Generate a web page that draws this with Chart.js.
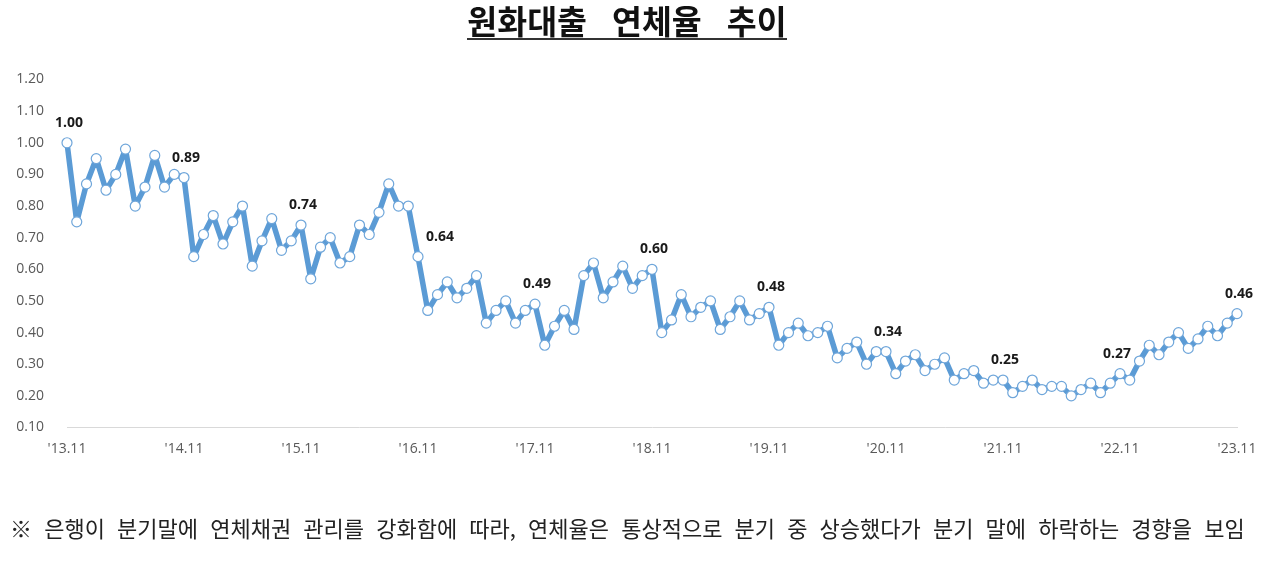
<!DOCTYPE html>
<html lang="ko">
<head>
<meta charset="utf-8">
<script src="https://cdn.jsdelivr.net/npm/chart.js@4.4.1/dist/chart.umd.min.js"></script>
<style>
  html, body { margin: 0; padding: 0; background: #fff; }
  body { width: 1280px; height: 564px; position: relative; overflow: hidden; }
  #wrap { position: absolute; left: 0; top: 0; width: 1280px; height: 564px; }
  #title {
    position: absolute; left: 0; top: 2px; width: 1254px; text-align: center;
    font-family: "Noto Sans CJK KR", sans-serif; font-weight: 700; font-size: 32.5px;
    color: #111; line-height: 36px; z-index: 2;
  }
  #title span { display: inline-block; border-bottom: 2px solid #333; word-spacing: 16px; line-height: 36px; }
  #note {
    position: absolute; left: 10px; top: 513px; white-space: nowrap;
    font-family: "Noto Sans CJK KR", sans-serif; font-size: 22px; color: #222;
    word-spacing: 6px; line-height: 28px; z-index: 2;
  }
</style>
</head>
<body>
<div id="title"><span>원화대출 연체율 추이</span></div>
<div id="wrap"><canvas id="c"></canvas></div>
<div id="note">※ 은행이 분기말에 연체채권 관리를 강화함에 따라, 연체율은 통상적으로 분기 중 상승했다가 분기 말에 하락하는 경향을 보임</div>
<script>
// Month categories from '13.11 to '23.11
const categories = [];
for (let y = 13; y <= 23; y++) {
  for (let m = 1; m <= 12; m++) {
    if ((y === 13 && m < 11) || (y === 23 && m > 11)) continue;
    categories.push("'" + y + "." + String(m).padStart(2, "0"));
  }
}

// Tick labels shown on the x axis (every November)
const tickLabels = ["'13.11", "'14.11", "'15.11", "'16.11", "'17.11", "'18.11",
                    "'19.11", "'20.11", "'21.11", "'22.11", "'23.11"];

// Overdue rate of won-denominated loans (%)
const overdueRate = [
  1.00, 0.75, 0.87, 0.95, 0.85, 0.90, 0.98, 0.80, 0.86, 0.96, 0.86, 0.90,
  0.89, 0.64, 0.71, 0.77, 0.68, 0.75, 0.80, 0.61, 0.69, 0.76, 0.66, 0.69,
  0.74, 0.57, 0.67, 0.70, 0.62, 0.64, 0.74, 0.71, 0.78, 0.87, 0.80, 0.80,
  0.64, 0.47, 0.52, 0.56, 0.51, 0.54, 0.58, 0.43, 0.47, 0.50, 0.43, 0.47,
  0.49, 0.36, 0.42, 0.47, 0.41, 0.58, 0.62, 0.51, 0.56, 0.61, 0.54, 0.58,
  0.60, 0.40, 0.44, 0.52, 0.45, 0.48, 0.50, 0.41, 0.45, 0.50, 0.44, 0.46,
  0.48, 0.36, 0.40, 0.43, 0.39, 0.40, 0.42, 0.32, 0.35, 0.37, 0.30, 0.34,
  0.34, 0.27, 0.31, 0.33, 0.28, 0.30, 0.32, 0.25, 0.27, 0.28, 0.24, 0.25,
  0.25, 0.21, 0.23, 0.25, 0.22, 0.23, 0.23, 0.20, 0.22, 0.24, 0.21, 0.24,
  0.27, 0.25, 0.31, 0.36, 0.33, 0.37, 0.40, 0.35, 0.38, 0.42, 0.39, 0.43,
  0.46
];

const LINE_BLUE = '#5B9BD5';

const valueLabels = {
  id: 'valueLabels',
  afterDatasetsDraw(chart) {
    const ctx = chart.ctx;
    const meta = chart.getDatasetMeta(0);
    const shift = { "'16.11": 22, "'22.11": -3 };
    ctx.save();
    ctx.font = 'bold 14px "Open Sans", sans-serif';
    ctx.fillStyle = '#1a1a1a';
    ctx.textAlign = 'center';
    ctx.textBaseline = 'middle';
    meta.data.forEach((pt, i) => {
      const cat = categories[i];
      if (!tickLabels.includes(cat)) return;
      const dx = (cat in shift) ? shift[cat] : 2;
      ctx.fillText(overdueRate[i].toFixed(2), pt.x + dx, pt.y - 20);
    });
    ctx.restore();
  }
};

new Chart(document.getElementById('c'), {
  type: 'line',
  data: {
    labels: categories,
    datasets: [{
      data: overdueRate,
      borderColor: LINE_BLUE,
      borderWidth: 5.5,
      borderJoinStyle: 'round',
      borderCapStyle: 'round',
      tension: 0,
      pointRadius: 5,
      pointBorderWidth: 1.2,
      pointBorderColor: '#6FA6DA',
      pointBackgroundColor: '#ffffff',
      clip: false
    }]
  },
  options: {
    responsive: true,
    maintainAspectRatio: false,
    animation: false,
    layout: { padding: { top: 79.5, right: 43, bottom: 96.5, left: 0 } },
    plugins: { legend: { display: false }, tooltip: { enabled: false }, title: { display: false } },
    scales: {
      x: {
        type: 'category',
        offset: false,
        grid: { display: false, drawTicks: false },
        border: { display: true, color: '#D9D9D9', width: 1 },
        ticks: {
          autoSkip: false, maxRotation: 0, minRotation: 0, padding: 13,
          color: '#595959', font: { family: '"Open Sans", sans-serif', size: 14 },
          callback: function (v, i) { const c = categories[i]; return tickLabels.includes(c) ? c : ''; }
        },
        afterFit: (s) => { s.height = 40; }
      },
      y: {
        min: 0.1, max: 1.2,
        grid: { display: false, drawTicks: false },
        border: { display: false },
        ticks: {
          stepSize: 0.1, padding: 23,
          color: '#595959', font: { family: '"Open Sans", sans-serif', size: 14 },
          callback: (v) => Number(v).toFixed(2)
        },
        afterFit: (s) => { s.width = 67; }
      }
    }
  },
  plugins: [valueLabels]
});
</script>
</body>
</html>
